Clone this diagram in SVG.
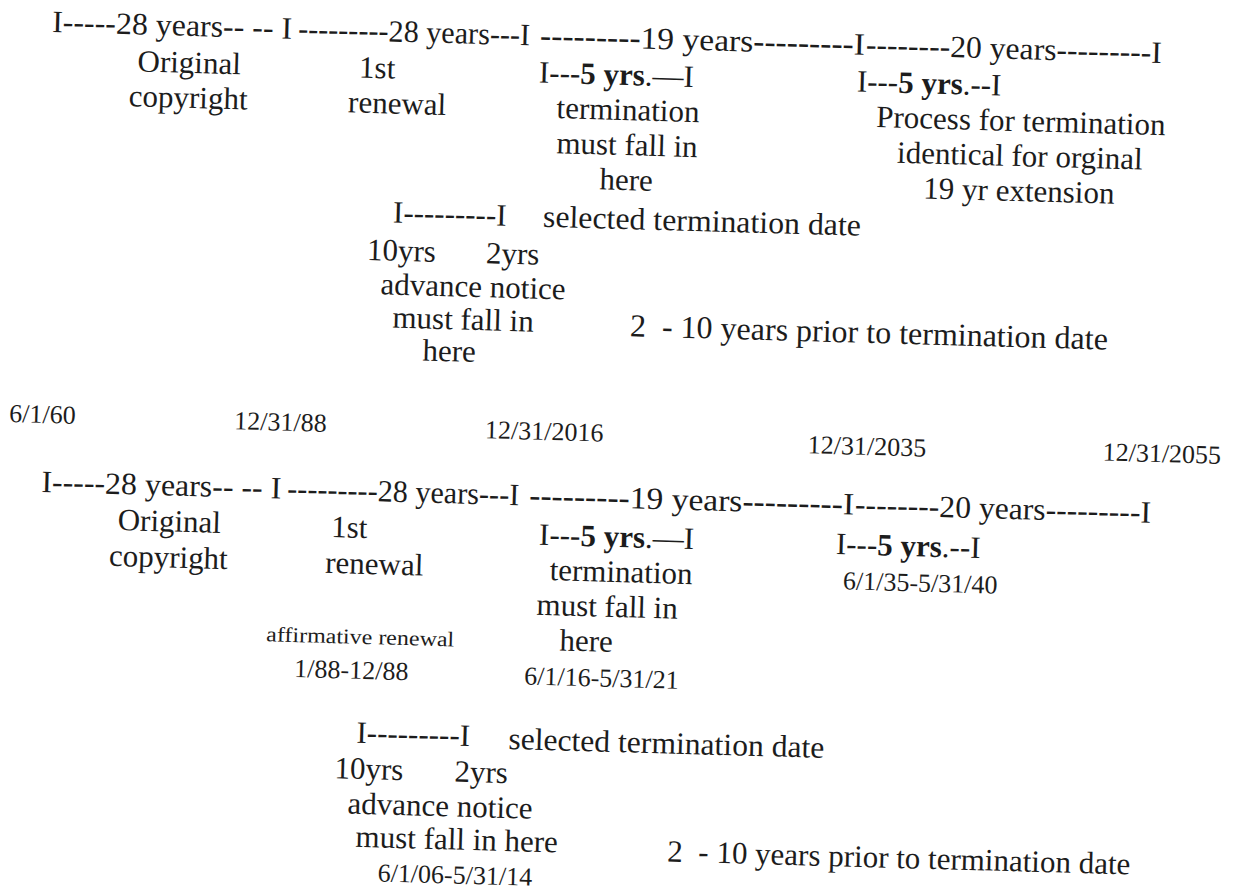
<svg xmlns="http://www.w3.org/2000/svg" width="1234" height="892" viewBox="0 0 1234 892">
<style>
text{font-family:"Liberation Serif","Times New Roman",serif;font-size:31px;fill:#1c1c1c}
.m{text-anchor:middle}
.d{font-size:26px}
.s{font-size:21px}
.b{font-weight:bold}
.p{white-space:pre}
.l{font-size:32px}
</style>
<rect width="1234" height="892" fill="#ffffff"/>
<g transform="rotate(1.6 52 32)">
<g id="top-timeline">
<text x="52" y="32" textLength="240" lengthAdjust="spacingAndGlyphs">I-----28 years-- -- I</text>
<text x="298" y="32" textLength="232" lengthAdjust="spacingAndGlyphs">---------28 years---I</text>
<text x="540" y="32" textLength="325" lengthAdjust="spacingAndGlyphs">---------19 years---------I</text>
<text x="866" y="32" textLength="296" lengthAdjust="spacingAndGlyphs">--------20 years---------I</text>
</g>
<g id="top-original">
<text class="m" x="190" y="69">Original</text>
<text class="m" x="190" y="104">copyright</text>
</g>
<g id="top-renewal">
<text x="360" y="69">1st</text>
<text x="350" y="104">renewal</text>
</g>
<g id="top-termination-window">
<text x="540" y="69">I---<tspan class="b">5 yrs</tspan>.—I</text>
<text class="m" x="630" y="104">termination</text>
<text class="m" x="630" y="139">must fall in</text>
<text class="m" x="630" y="174">here</text>
</g>
<g id="top-extension">
<text x="858" y="69">I---<tspan class="b">5 yrs</tspan>.--I</text>
<text class="m" x="1023" y="104">Process for termination</text>
<text class="m" x="1023" y="139">identical for orginal</text>
<text class="m" x="1023" y="174">19 yr extension</text>
</g>
<g id="top-notice">
<text x="398" y="213">I---------I</text>
<text x="548" y="213" textLength="318" lengthAdjust="spacingAndGlyphs">selected termination date</text>
<text x="373" y="251">10yrs</text>
<text x="492" y="251">2yrs</text>
<text class="m" x="480" y="285">advance notice</text>
<text class="m" x="471" y="318">must fall in</text>
<text class="m" x="458" y="350">here</text>
<text class="p l" x="638" y="320">2  - 10 years prior to termination date</text>
</g>
<g id="dates">
<text class="d" x="20" y="423">6/1/60</text>
<text class="d" x="245" y="424">12/31/88</text>
<text class="d" x="496" y="426">12/31/2016</text>
<text class="d" x="819" y="432">12/31/2035</text>
<text class="d" x="1114" y="431">12/31/2055</text>
</g>
<g id="bottom-timeline">
<text x="54" y="492" textLength="240" lengthAdjust="spacingAndGlyphs">I-----28 years-- -- I</text>
<text x="300" y="492" textLength="232" lengthAdjust="spacingAndGlyphs">---------28 years---I</text>
<text x="542" y="492" textLength="325" lengthAdjust="spacingAndGlyphs">---------19 years---------I</text>
<text x="868" y="492" textLength="296" lengthAdjust="spacingAndGlyphs">--------20 years---------I</text>
</g>
<g id="bottom-original">
<text class="m" x="183" y="528">Original</text>
<text class="m" x="183" y="564">copyright</text>
</g>
<g id="bottom-renewal">
<text x="345" y="529">1st</text>
<text x="340" y="565">renewal</text>
<text class="s" x="283" y="635" textLength="188" lengthAdjust="spacingAndGlyphs">affirmative renewal</text>
<text class="d" x="312" y="670">1/88-12/88</text>
</g>
<g id="bottom-termination-window">
<text x="553" y="531">I---<tspan class="b">5 yrs</tspan>.—I</text>
<text class="m" x="636" y="566">termination</text>
<text class="m" x="623" y="601">must fall in</text>
<text class="m" x="603" y="636">here</text>
<text class="d" x="542" y="671">6/1/16-5/31/21</text>
</g>
<g id="bottom-extension">
<text x="850" y="532">I---<tspan class="b">5 yrs</tspan>.--I</text>
<text class="d" x="858" y="567">6/1/35-5/31/40</text>
</g>
<g id="bottom-notice">
<text x="376" y="734">I---------I</text>
<text x="528" y="736" textLength="316" lengthAdjust="spacingAndGlyphs">selected termination date</text>
<text x="355" y="770">10yrs</text>
<text x="475" y="770">2yrs</text>
<text x="369" y="805">advance notice</text>
<text x="378" y="838">must fall in here</text>
<text class="d" x="401" y="872">6/1/06-5/31/14</text>
<text class="p" x="690" y="844">2  - 10 years prior to termination date</text>
</g>
</g>
</svg>
